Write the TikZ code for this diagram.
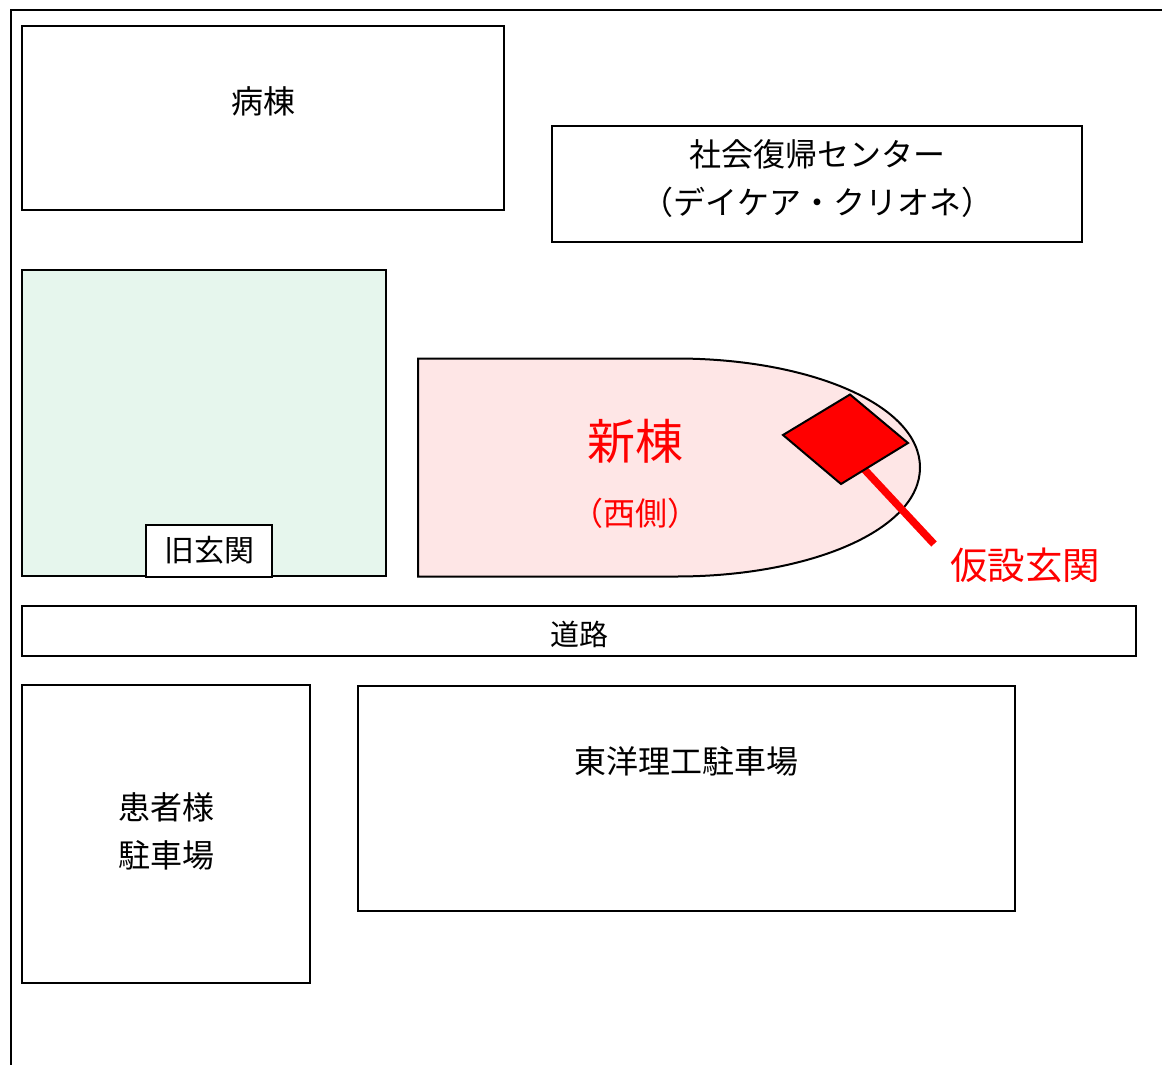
\documentclass[tikz,border=0pt]{standalone}
\usepackage{fontspec}
\setmainfont{Noto Sans CJK JP}
\begin{document}
\begin{tikzpicture}[x=1pt,y=-1pt,
  bld/.style={draw=black,line width=2pt},
  lbl/.style={inner sep=0pt,align=center,font=\fontsize{32}{48}\selectfont}]
\useasboundingbox (0,0) rectangle (1162,1065);
\fill[white] (0,0) rectangle (1162,1065);
\draw[line width=2pt] (10.5,1065) -- (10.5,10.5) -- (1162,10.5);
\draw[bld] (22,26.5) rectangle (504,210);
\node[lbl] (ward) at (263,101.5) {病棟};
\draw[bld] (552,126) rectangle (1082,242);
\node[lbl] (center) at (817,178.5) {社会復帰センター\\（デイケア・クリオネ）};
\draw[bld,fill={rgb,255:red,230;green,246;blue,237}] (22,270) rectangle (386,576);
\node[bld,fill=white,minimum width=126pt,minimum height=52pt,inner sep=0pt,font=\fontsize{30}{36}\selectfont] (old) at (209,550.5) {旧玄関};
\draw[bld,fill={rgb,255:red,254;green,230;blue,230}] (418,358.5) -- (676,358.5) .. controls (810,358.5) and (920,405) .. (920,467.5) .. controls (920,530) and (810,576.5) .. (676,576.5) -- (418,576.5) -- cycle;
\node[inner sep=0pt,text=red,font=\fontsize{48}{50}\selectfont] (new) at (635,441) {新棟};
\node[inner sep=0pt,text=red,font=\fontsize{32}{36}\selectfont] (west) at (635,513) {（西側）};
\coordinate (stick) at (934,544);
\coordinate (dbase) at (864,469);
\draw[red,line width=7.5pt] (dbase) -- (stick);
\draw[line width=2pt,fill=red,line join=miter] (850,394.5) -- (908,443) -- (841,484) -- (783,435) -- cycle;
\node[inner sep=0pt,text=red,font=\fontsize{37.5}{44}\selectfont] (temp) at (1025,565.5) {仮設玄関};
\draw[bld] (22,606) rectangle (1136,656);
\node[lbl,font=\fontsize{29}{36}\selectfont] (road) at (579,634) {道路};
\draw[bld] (22,684.5) rectangle (310,982.5);
\node[lbl] (patient) at (166,831.5) {患者様\\駐車場};
\draw[bld] (357.5,685.5) rectangle (1015,911);
\node[lbl] (toyo) at (686,761) {東洋理工駐車場};
\end{tikzpicture}
\end{document}
